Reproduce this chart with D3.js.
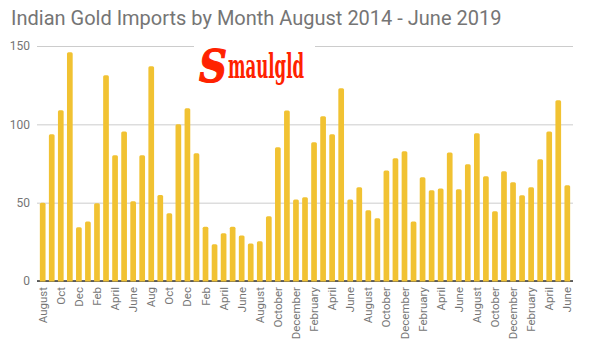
<!DOCTYPE html>
<html><head><meta charset="utf-8">
<script src="https://cdn.jsdelivr.net/npm/d3@7"></script>
<style>body{margin:0;background:#fff}svg{display:block}</style>
</head><body>
<script>
const months = ["Aug 2014","Sep 2014","Oct 2014","Nov 2014","Dec 2014",
"Jan 2015","Feb 2015","Mar 2015","Apr 2015","May 2015","Jun 2015","Jul 2015","Aug 2015","Sep 2015","Oct 2015","Nov 2015","Dec 2015",
"Jan 2016","Feb 2016","Mar 2016","Apr 2016","May 2016","Jun 2016","Jul 2016","Aug 2016","Sep 2016","Oct 2016","Nov 2016","Dec 2016",
"Jan 2017","Feb 2017","Mar 2017","Apr 2017","May 2017","Jun 2017","Jul 2017","Aug 2017","Sep 2017","Oct 2017","Nov 2017","Dec 2017",
"Jan 2018","Feb 2018","Mar 2018","Apr 2018","May 2018","Jun 2018","Jul 2018","Aug 2018","Sep 2018","Oct 2018","Nov 2018","Dec 2018",
"Jan 2019","Feb 2019","Mar 2019","Apr 2019","May 2019","Jun 2019"];
const imports = [50,93.6,109,146,34.3,
38,49.6,131.3,80.2,95.5,50.9,80.2,137,54.9,43.2,100,110.2,
81.5,34.7,23.4,30.4,34.7,29.1,24,25.3,41.3,85.3,108.9,52.1,
53.4,88.5,105.1,93.6,123,52.1,59.8,45.1,40,70.6,78.3,82.8,
37.9,66.2,57.9,59.1,82.1,58.5,74.5,94.3,66.8,44.5,70,63,
54.7,59.8,77.7,95.5,115.3,61.1];
const xLabels = ["August","Oct","Dec","Feb","April","June","Aug","Oct","Dec","Feb","April","June",
"August","October","December","February","April","June","August","October","December","February","April","June",
"August","October","December","February","April","June"];
const yTicks = [0,50,100,150];
const title = "Indian Gold Imports by Month August 2014 - June 2019";

const W=590,H=355;
const svg=d3.select("body").append("svg").attr("width",W).attr("height",H);
const x=d3.scaleBand().domain(months).range([37,573]).paddingInner(0.37).paddingOuter(0.315);
const y=d3.scaleLinear().domain([0,150]).range([281,46]);

svg.append("text").attr("x",11).attr("y",25).attr("fill","#757575")
  .style("font-family","Roboto").style("font-size","20px").text(title);

const yAxis=svg.append("g").attr("transform","translate(37,0)")
  .call(d3.axisLeft(y).tickValues(yTicks).tickSize(-536).tickPadding(7));
yAxis.select(".domain").remove();
yAxis.selectAll(".tick line").attr("stroke","#cccccc");
yAxis.selectAll(".tick text").attr("fill","#757575").style("font-family","Roboto").style("font-size","12px");

svg.append("line").attr("x1",37).attr("x2",573).attr("y1",y(0)).attr("y2",y(0)).attr("stroke","#333").attr("stroke-width",1.3);

svg.append("g").selectAll("path").data(imports).join("path")
  .attr("fill","#f1c232")
  .attr("d",(d,i)=>{
    const x0=x(months[i]),w=x.bandwidth(),y0=y(d),yb=y(0)+0.5,r=1.5;
    return `M${x0},${yb}V${y0+r}Q${x0},${y0} ${x0+r},${y0}H${x0+w-r}Q${x0+w},${y0} ${x0+w},${y0+r}V${yb}Z`;
  });

const labelMonths = months.filter((m,i)=>i%2===0);
svg.append("g").selectAll("text").data(labelMonths).join("text")
  .attr("transform",(m)=>`translate(${x(m)+x.bandwidth()/2},287) rotate(-90)`)
  .attr("dy","0.35em").attr("text-anchor","end").attr("fill","#757575")
  .style("font-family","Roboto").style("font-size","11.5px")
  .text((m,i)=>xLabels[i]);

// logo
const logo=svg.append("g");
logo.append("rect").attr("x",194).attr("y",42).attr("width",121).attr("height",45).attr("fill","#fff");
logo.append("text").attr("x",199).attr("y",82).attr("fill","#ff2200").attr("stroke","#ff2200").attr("stroke-width",1.2)
  .style("font-family","DejaVu Serif").style("font-weight","bold").style("font-style","italic").style("font-size","45px")
  .attr("textLength",28).attr("lengthAdjust","spacingAndGlyphs").text("S");
logo.append("text").attr("x",228).attr("y",78).attr("fill","#ff2200")
  .style("font-family","DejaVu Serif Condensed, DejaVu Serif").style("font-weight","bold").style("font-size","34px")
  .attr("textLength",76).attr("lengthAdjust","spacingAndGlyphs").text("maulgld");
</script>
</body></html>
